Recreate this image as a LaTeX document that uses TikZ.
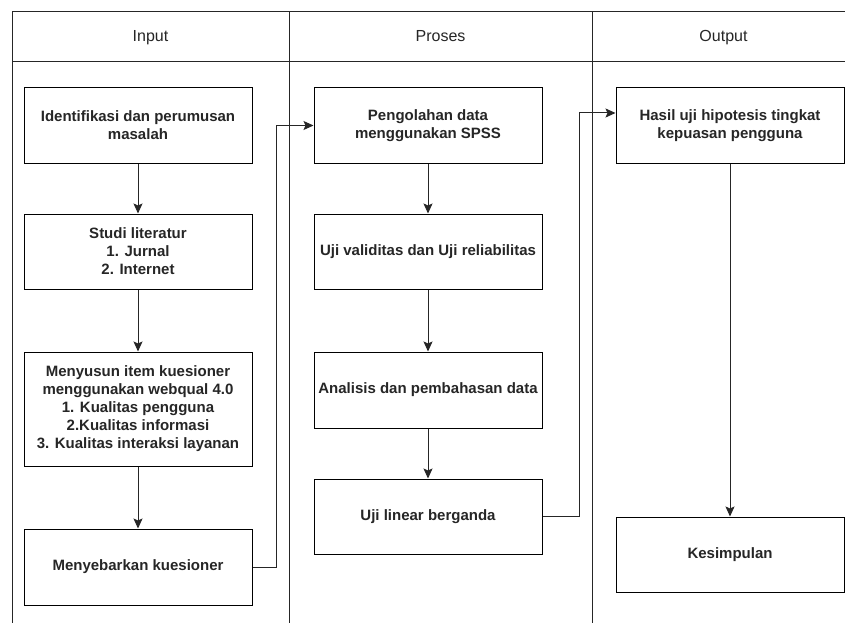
\documentclass[tikz,border=0pt]{standalone}
\usepackage{fontspec}
\setmainfont{Liberation Sans}
\usetikzlibrary{arrows.meta,calc}
\tikzset{
  boxnode/.style={draw=black, line width=1pt, minimum width=228pt, inner sep=0pt,
    align=center, font=\fontsize{15}{18}\selectfont\bfseries, text=black!85},
  headnode/.style={font=\fontsize{16}{19}\selectfont, text=black!85, anchor=base},
  conn/.style={draw=black!85, line width=1pt, -{Stealth[length=10pt,width=9pt,inset=2pt]}},
  lane/.style={draw=black!85, line width=1pt}
}
\begin{document}
\begin{tikzpicture}[x=1pt,y=-1pt]
\clip (0,0) rectangle (845,623);
\fill[white] (0,0) rectangle (845,623);
% swimlane frame
\draw[lane] (12,660) -- (12,12) -- (870,12);
\draw[lane] (12,62) -- (870,62);
\draw[lane] (289,12) -- (289,660);
\draw[lane] (592,12) -- (592,660);
\draw[lane] (855,12) -- (855,660);
% headers
\node[headnode] (hin) at (150.5,42) {Input};
\node[headnode] (hpr) at (440.5,42) {Proses};
\node[headnode] (hout) at (723.5,42) {Output};
% input lane
\node[boxnode, minimum height=75pt] (b1) at (138,125.5) {Identifikasi dan perumusan\\masalah};
\node[boxnode, minimum height=75pt] (b2) at (138,251.5) {Studi literatur\\1. Jurnal\\2. Internet};
\node[boxnode, minimum height=114pt] (b3) at (138,409) {Menyusun item kuesioner\\menggunakan webqual 4.0\\1. Kualitas pengguna\\2.Kualitas informasi\\3. Kualitas interaksi layanan};
\node[boxnode, minimum height=76pt] (b4) at (138,567) {Menyebarkan kuesioner};
% proses lane
\node[boxnode, minimum height=75pt] (p1) at (428,125.5) {Pengolahan data\\menggunakan SPSS};
\node[boxnode, minimum height=75pt] (p2) at (428,251.5) {Uji validitas dan Uji reliabilitas};
\node[boxnode, minimum height=76pt] (p3) at (428,390) {Analisis dan pembahasan data};
\node[boxnode, minimum height=75pt] (p4) at (428,516.5) {Uji linear berganda};
% output lane
\node[boxnode, minimum height=75pt] (o1) at (730,125.5) {Hasil uji hipotesis tingkat\\kepuasan pengguna};
\node[boxnode, minimum height=75pt] (o2) at (730,554.5) {Kesimpulan};
% connectors
\draw[conn] (b1.south) -- (b2.north);
\draw[conn] (b2.south) -- (b3.north);
\draw[conn] (b3.south) -- (b4.north);
\draw[conn] (p1.south) -- (p2.north);
\draw[conn] (p2.south) -- (p3.north);
\draw[conn] (p3.south) -- (p4.north);
\draw[conn] (o1.south) -- (o2.north);
\draw[conn] (b4.east) -- ++(24,0) |- (p1.west);
\draw[conn] (p4.east) -- ++(37,0) |- ([yshift=12.5pt]o1.west);
\end{tikzpicture}
\end{document}
